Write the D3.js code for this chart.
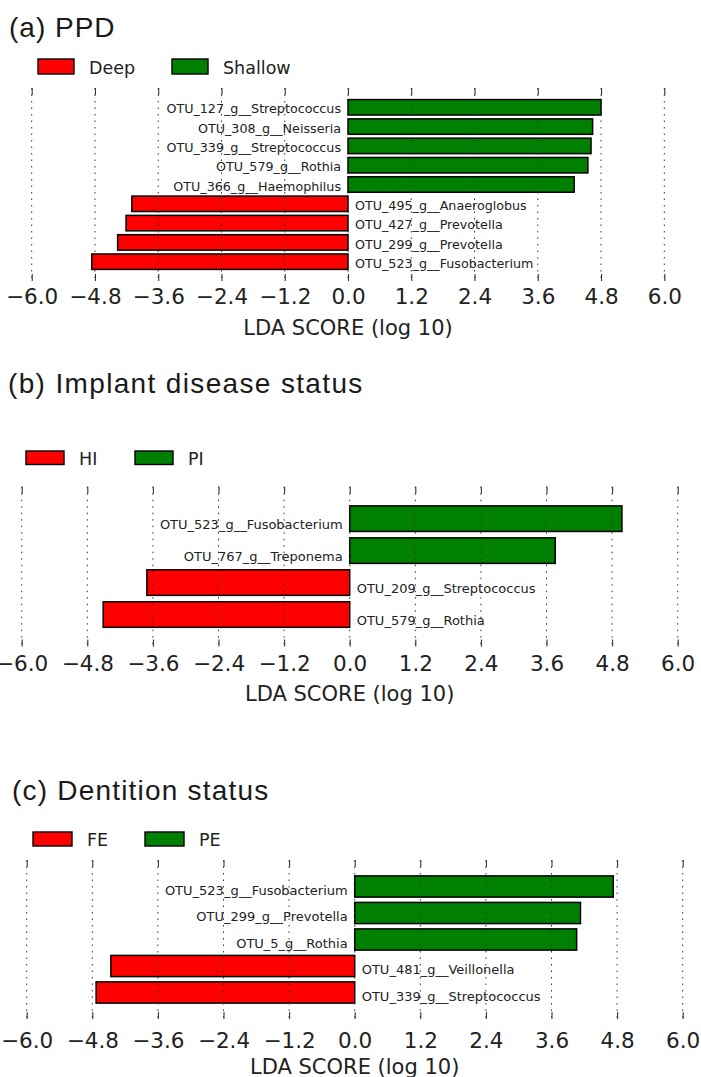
<!DOCTYPE html>
<html>
<head>
<meta charset="utf-8">
<script src="https://cdn.jsdelivr.net/npm/d3@7"></script>
<style>
  html, body { margin: 0; padding: 0; background: #fff; }
  svg { display: block; }
</style>
</head>
<body>
<script>
// ---------------- DATA ----------------
const tickValues = [-6.0, -4.8, -3.6, -2.4, -1.2, 0.0, 1.2, 2.4, 3.6, 4.8, 6.0];
const axisTitle = "LDA SCORE (log 10)";

const ppdTitle = "(a) PPD";
const ppdGroups = ["Deep", "Shallow"];
const ppdLabels = [
  "OTU_127_g__Streptococcus", "OTU_308_g__Neisseria", "OTU_339_g__Streptococcus",
  "OTU_579_g__Rothia", "OTU_366_g__Haemophilus", "OTU_495_g__Anaeroglobus",
  "OTU_427_g__Prevotella", "OTU_299_g__Prevotella", "OTU_523_g__Fusobacterium"
];
const ppdValues = [4.80, 4.64, 4.61, 4.55, 4.29, -4.10, -4.21, -4.37, -4.86];

const implantTitle = "(b) Implant disease status";
const implantGroups = ["HI", "PI"];
const implantLabels = [
  "OTU_523_g__Fusobacterium", "OTU_767_g__Treponema",
  "OTU_209_g__Streptococcus", "OTU_579_g__Rothia"
];
const implantValues = [4.98, 3.76, -3.71, -4.51];

const dentitionTitle = "(c) Dentition status";
const dentitionGroups = ["FE", "PE"];
const dentitionLabels = [
  "OTU_523_g__Fusobacterium", "OTU_299_g__Prevotella", "OTU_5_g__Rothia",
  "OTU_481_g__Veillonella", "OTU_339_g__Streptococcus"
];
const dentitionValues = [4.73, 4.13, 4.06, -4.46, -4.73];

// ---------------- LAYOUT (positions / styles) ----------------
const W = 701, H = 1077;
const negColor = "#ff0000", posColor = "#008000";

const panels = [
  { title: ppdTitle, groups: ppdGroups, labels: ppdLabels, values: ppdValues,
    titleX: 9, titleY: 37, titleLs: 1,
    legBoxY: 59, legBoxH: 15, legBoxW: 36, legBoxX: [38, 172], legTextX: [89, 223], legTextY: 74,
    top: 88, bottom: 281, x0: 31.7, x1: 664.3, tickY: 304, axisY: 335, labelFs: 12.7 },
  { title: implantTitle, groups: implantGroups, labels: implantLabels, values: implantValues,
    titleX: 8, titleY: 393, titleLs: 1.35,
    legBoxY: 451, legBoxH: 13.5, legBoxW: 38, legBoxX: [26, 135], legTextX: [79, 188], legTextY: 464.5,
    top: 486.7, bottom: 646.5, x0: 21.7, x1: 677.7, tickY: 671, axisY: 701, labelFs: 13 },
  { title: dentitionTitle, groups: dentitionGroups, labels: dentitionLabels, values: dentitionValues,
    titleX: 12, titleY: 800, titleLs: 1.2,
    legBoxY: 832, legBoxH: 14, legBoxW: 39, legBoxX: [33, 145], legTextX: [87, 199], legTextY: 846,
    top: 860, bottom: 1019, x0: 26.7, x1: 682.7, tickY: 1048, axisY: 1074, labelFs: 13 }
];

const svg = d3.select("body").append("svg")
  .attr("width", W).attr("height", H)
  .attr("viewBox", `0 0 ${W} ${H}`);

const fmt = d3.format(".1f");
const mainFont = "'DejaVu Sans', sans-serif";

panels.forEach(p => {
  const g = svg.append("g");
  const N = p.values.length;
  const x = d3.scaleLinear().domain([tickValues[0], tickValues[tickValues.length - 1]]).range([p.x0, p.x1]);
  const y = d3.scaleLinear().domain([-1, N]).range([p.top, p.bottom]);
  const pitch = (p.bottom - p.top) / (N + 1);
  const barH = 0.8 * pitch;

  // title
  g.append("text")
    .attr("x", p.titleX).attr("y", p.titleY)
    .attr("font-family", "'Liberation Sans', Arial, sans-serif")
    .attr("font-size", 28)
    .attr("font-weight", 300)
    .attr("letter-spacing", p.titleLs)
    .attr("fill", "#1a1a1a")
    .text(p.title);

  // legend
  p.groups.forEach((name, k) => {
    g.append("rect")
      .attr("x", p.legBoxX[k]).attr("y", p.legBoxY)
      .attr("width", p.legBoxW).attr("height", p.legBoxH)
      .attr("fill", k === 0 ? negColor : posColor)
      .attr("stroke", "#000").attr("stroke-width", 1.4);
    g.append("text")
      .attr("x", p.legTextX[k]).attr("y", p.legTextY)
      .attr("font-family", mainFont).attr("font-size", 17.5)
      .attr("fill", "#222")
      .text(name);
  });

  // bars
  g.selectAll("rect.bar").data(p.values).join("rect")
    .attr("class", "bar")
    .attr("x", d => x(Math.min(0, d)))
    .attr("y", (d, i) => y(i) - barH / 2)
    .attr("width", d => Math.abs(x(d) - x(0)))
    .attr("height", barH)
    .attr("fill", d => d > 0 ? posColor : negColor)
    .attr("stroke", "#000").attr("stroke-width", 1.5);

  // grid (dotted, drawn over bars)
  g.selectAll("line.grid").data(tickValues).join("line")
    .attr("class", "grid")
    .attr("x1", d => x(d)).attr("x2", d => x(d))
    .attr("y1", p.top).attr("y2", p.bottom)
    .attr("stroke", "#333").attr("stroke-width", 1)
    .attr("stroke-dasharray", "1.5,5");

  // bar labels
  g.selectAll("text.lab").data(p.values).join("text")
    .attr("class", "lab")
    .attr("x", d => d > 0 ? x(0) - 7 : x(0) + 7)
    .attr("y", (d, i) => y(i) + 0.32 * pitch)
    .attr("text-anchor", d => d > 0 ? "end" : "start")
    .attr("font-family", mainFont).attr("font-size", p.labelFs)
    .attr("fill", "#222")
    .text((d, i) => p.labels[i]);

  // axes: ticks on top and bottom, no spines
  const axB = d3.axisBottom(x).tickValues(tickValues).tickSize(-7).tickPadding(0).tickFormat(fmt);
  const gb = g.append("g").attr("transform", `translate(0,${p.bottom})`).call(axB);
  gb.select(".domain").remove();
  gb.selectAll(".tick line").attr("stroke", "#333").attr("stroke-width", 1.1);
  gb.selectAll(".tick text")
    .attr("y", p.tickY - p.bottom).attr("dy", null)
    .attr("font-family", mainFont).attr("font-size", 21.5)
    .attr("fill", "#222");

  const axT = d3.axisTop(x).tickValues(tickValues).tickSize(-7).tickFormat("");
  const gt = g.append("g").attr("transform", `translate(0,${p.top})`).call(axT);
  gt.select(".domain").remove();
  gt.selectAll(".tick line").attr("stroke", "#333").attr("stroke-width", 1.1);

  // axis title
  g.append("text")
    .attr("x", (p.x0 + p.x1) / 2).attr("y", p.axisY)
    .attr("text-anchor", "middle")
    .attr("font-family", mainFont).attr("font-size", 21)
    .attr("fill", "#222")
    .text(axisTitle);
});
</script>
</body>
</html>
